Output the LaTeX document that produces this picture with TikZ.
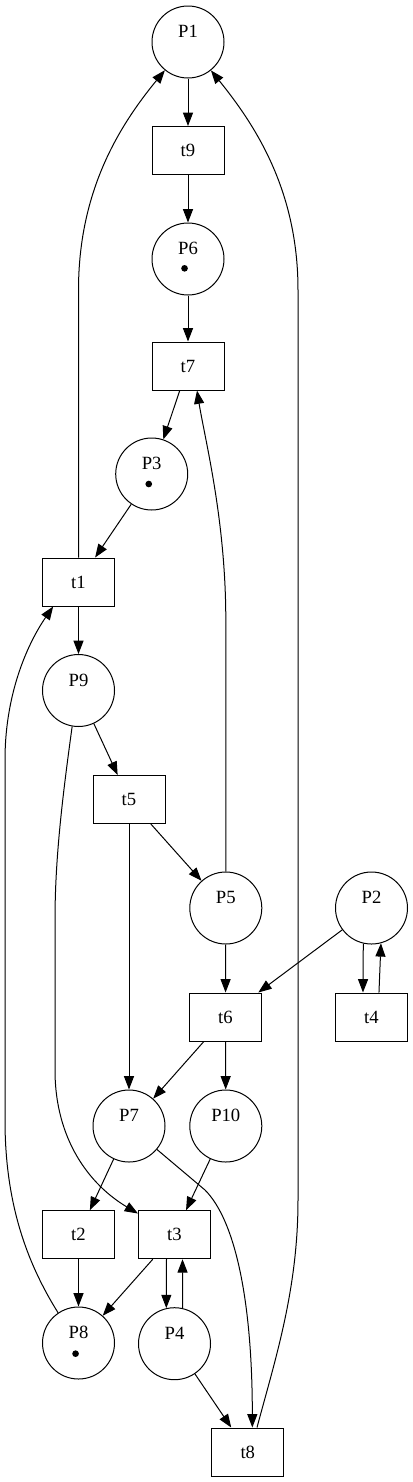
\documentclass[tikz,border=0pt]{standalone}
\usepackage{fontspec}
\setmainfont{Liberation Serif}
\usetikzlibrary{arrows.meta}
\begin{document}
\begin{tikzpicture}[x=0.75pt,y=-0.75pt,line width=0.75pt,
  place/.style={circle,draw,minimum size=54pt,inner sep=0pt},
  trans/.style={rectangle,draw,minimum width=54pt,minimum height=36pt,inner sep=0pt,font=\fontsize{14}{16}\selectfont},
  plabel/.style={font=\fontsize{14}{16}\selectfont,inner sep=0pt,yshift=7.9pt},
  arc/.style={-{Triangle[length=10pt,width=7.5pt]}},
  token/.style={fill=black}]
\useasboundingbox (0,0) rectangle (413,1482);
% places
\node[place,label={[plabel]center:P1}] (P1) at (188,42) {};
\node[place,label={[plabel]center:P6}] (P6) at (188,259) {};
\node[place,label={[plabel]center:P3}] (P3) at (151.7,474) {};
\node[place,label={[plabel]center:P9}] (P9) at (78.5,690.5) {};
\node[place,label={[plabel]center:P5}] (P5) at (225.8,908) {};
\node[place,label={[plabel]center:P2}] (P2) at (371.5,908) {};
\node[place,label={[plabel]center:P7}] (P7) at (129,1126) {};
\node[place,label={[plabel]center:P10}] (P10) at (225.8,1126) {};
\node[place,label={[plabel]center:P8}] (P8) at (78.5,1343) {};
\node[place,label={[plabel]center:P4}] (P4) at (174.5,1343.7) {};
% tokens
\fill[token] ([xshift=-2.6pt,yshift=-7pt]P6.center) circle[radius=2.5pt];
\fill[token] ([xshift=-2.2pt,yshift=-7.5pt]P3.center) circle[radius=2.5pt];
\fill[token] ([xshift=-2.2pt,yshift=-8pt]P8.center) circle[radius=2.5pt];
% transitions
\node[trans] (t9) at (188,150.5) {t9};
\node[trans] (t7) at (188,366) {t7};
\node[trans] (t1) at (78.5,582) {t1};
\node[trans] (t5) at (129,799.5) {t5};
\node[trans] (t6) at (225.5,1017) {t6};
\node[trans] (t4) at (371.5,1017) {t4};
\node[trans] (t2) at (78.5,1234.7) {t2};
\node[trans] (t3) at (174.5,1234.7) {t3};
\node[trans] (t8) at (247.8,1452) {t8};
% arcs
\draw[arc] (P1) -- (t9);
\draw[arc] (t9) -- (P6);
\draw[arc] (P6) -- (t7);
\draw[arc] (t7) -- (P3);
\draw[arc] (P3) -- (t1);
\draw[arc] (t1.north) -- (78.5,290) .. controls (78.5,190) and (120,125) .. (P1);
\draw[arc] (t1) -- (P9);
\draw[arc] (P9) -- (t5);
\draw[arc] (P9.260) .. controls (62,800) and (55,860) .. (55,920) -- (55,1070) .. controls (55,1140) and (90,1185) .. ([yshift=-2.5pt]t3.north west);
\draw[arc] (t5) -- (P5);
\draw[arc] (t5) -- (P7);
\draw[arc] (P5.north) -- (225.8,620) .. controls (225.8,520) and (205,440) .. ([xshift=6.75pt]t7.south);
\draw[arc] (P2) -- (t6);
\draw[arc] (P2.257) -- ([xshift=-6.4pt]t4.north);
\draw[arc] ([xshift=5.6pt]t4.north) -- (P2.285);
\draw[arc] (P5) -- (t6);
\draw[arc] (t6) -- (P7);
\draw[arc] (t6) -- (P10);
\draw[arc] (P7) -- (t2);
\draw[arc] (P10) -- (t3);
\draw[arc] (P7.320) -- (205,1190) .. controls (235,1220) and (252.3,1300) .. ([xshift=3.4pt]t8.north);
\draw[arc] ([xshift=6.9pt]t8.north) .. controls (275,1360) and (298,1290) .. (298,1200) -- (298,290) .. controls (298,190) and (255,125) .. (P1);
\draw[arc] (P4) -- (t8);
\draw[arc] (t2) -- (P8);
\draw[arc] (t3) -- (P8);
\draw[arc] ([xshift=-6pt]t3.south) -- (P4.103);
\draw[arc] (P4.77) -- ([xshift=6pt]t3.south);
\draw[arc] (P8.124) .. controls (25,1260) and (5,1200) .. (5,1120) -- (5,760) .. controls (5,690) and (30,640) .. ([xshift=-19pt]t1.south);
\end{tikzpicture}
\end{document}
